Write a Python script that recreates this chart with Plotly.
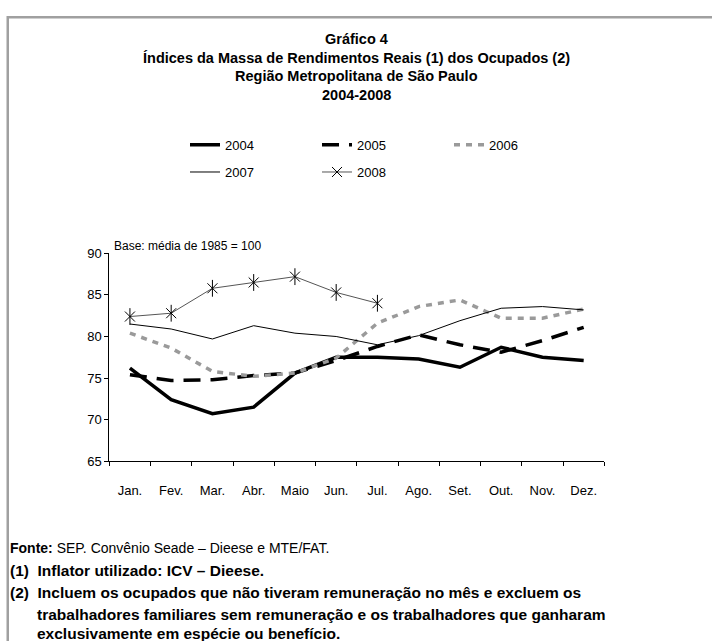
import plotly.graph_objects as go

W, H = 712, 641

months = ["Jan.", "Fev.", "Mar.", "Abr.", "Maio", "Jun.", "Jul.", "Ago.", "Set.", "Out.", "Nov.", "Dez."]
y2004 = [76.2, 72.4, 70.7, 71.5, 75.6, 77.5, 77.5, 77.3, 76.3, 78.7, 77.5, 77.1]
y2005 = [75.4, 74.7, 74.8, 75.3, 75.6, 77.1, 78.8, 80.2, 79.0, 78.1, 79.5, 81.1]
y2006 = [80.4, 78.6, 75.8, 75.2, 75.6, 77.4, 81.6, 83.6, 84.4, 82.2, 82.2, 83.3]
y2007 = [81.5, 80.9, 79.7, 81.3, 80.4, 80.0, 79.0, 80.1, 81.9, 83.4, 83.6, 83.2]
y2008 = [82.4, 82.8, 85.8, 86.5, 87.2, 85.3, 84.0]
yticks = [65, 70, 75, 80, 85, 90]

SANS = "Liberation Sans, Arial, sans-serif"

def px(x):
    return x / W

def py(y):
    return 1 - y / H

fig = go.Figure()

fig.add_trace(go.Scatter(x=months, y=y2004, name="2004", mode="lines",
                         line=dict(color="black", width=3.5), legend="legend"))
fig.add_trace(go.Scatter(x=months, y=y2005, name="2005", mode="lines",
                         line=dict(color="black", width=3.5, dash="17px,10px"), legend="legend"))
fig.add_trace(go.Scatter(x=months, y=y2006, name="2006", mode="lines",
                         line=dict(color="#9a9a9a", width=3.5, dash="6px,6px"), legend="legend"))
fig.add_trace(go.Scatter(x=months, y=y2007, name="2007", mode="lines",
                         line=dict(color="black", width=1), legend="legend2"))
fig.add_trace(go.Scatter(x=months[:len(y2008)], y=y2008, name="2008", mode="lines+markers",
                         line=dict(color="#555555", width=1),
                         marker=dict(symbol="x-thin-open", size=10, color="black",
                                     line=dict(color="black", width=1)),
                         legend="legend2"))
fig.add_trace(go.Scatter(x=months[:len(y2008)], y=y2008, name="2008", mode="markers",
                         marker=dict(symbol="line-ns-open", size=12, color="black",
                                     line=dict(color="black", width=1)),
                         showlegend=False))

fig.update_layout(
    width=W, height=H,
    margin=dict(l=0, r=0, t=0, b=0),
    paper_bgcolor="white", plot_bgcolor="white",
    font=dict(family=SANS, color="black", size=13),
    xaxis=dict(domain=[px(109.3), px(604.3)], type="category", range=[-0.5, 11.5],
               showline=True, linecolor="black", linewidth=1, showgrid=False, zeroline=False,
               ticks="outside", ticklen=4, tickcolor="black", tickson="boundaries",
               tickfont=dict(size=13, family=SANS), ticklabelstandoff=17),
    yaxis=dict(domain=[py(465), py(252.3)], range=[65, 90], tickvals=yticks,
               showline=True, linecolor="black", linewidth=1, showgrid=False, zeroline=False,
               ticks="outside", ticklen=4, tickcolor="black",
               tickfont=dict(size=13, family=SANS)),
    showlegend=True,
    legend=dict(orientation="h", x=px(185), y=py(141), xanchor="left", yanchor="middle",
                entrywidth=87, entrywidthmode="pixels", font=dict(size=13, family=SANS),
                bgcolor="rgba(0,0,0,0)", tracegroupgap=0),
    legend2=dict(orientation="h", x=px(185), y=py(169), xanchor="left", yanchor="middle",
                 entrywidth=87, entrywidthmode="pixels", font=dict(size=13, family=SANS),
                 bgcolor="rgba(0,0,0,0)", tracegroupgap=0),
)

# frame
fig.add_shape(type="rect", xref="paper", yref="paper",
              x0=px(7.75), x1=1.05, y0=-0.05, y1=py(10.5),
              line=dict(color="#a0a0a0", width=2.5), layer="below")

titles = [
    ("Gráfico 4", 33),
    ("Índices da Massa de Rendimentos Reais (1) dos Ocupados (2)", 52),
    ("Região Metropolitana de São Paulo", 71),
    ("2004-2008", 90),
]
for t, y in titles:
    fig.add_annotation(text="<b>" + t + "</b>", x=0.5, y=py(y), xref="paper", yref="paper",
                       xanchor="center", yanchor="middle", showarrow=False,
                       font=dict(family=SANS, size=14.5, color="black"))

fig.add_annotation(text="Base: média de 1985 = 100", x=px(112), y=py(245), xref="paper", yref="paper",
                   xanchor="left", yanchor="middle", showarrow=False,
                   font=dict(family=SANS, size=12, color="black"))

notes = [
    ("<b>Fonte:</b> SEP. Convênio Seade – Dieese e MTE/FAT.", 8, 554, 14),
    ("<b>(1)  Inflator utilizado: ICV – Dieese.</b>", 8, 577, 15.5),
    ("<b>(2)  Incluem os ocupados que não tiveram remuneração no mês e excluem os</b>", 8, 600, 15.5),
    ("<b>trabalhadores familiares sem remuneração e os trabalhadores que ganharam</b>", 35, 622, 15.5),
    ("<b>exclusivamente em espécie ou benefício.</b>", 35, 642, 15.5),
]
for t, x, y, s in notes:
    fig.add_annotation(text=t, x=px(x), y=py(y), xref="paper", yref="paper",
                       xanchor="left", yanchor="middle", showarrow=False,
                       font=dict(family=SANS, size=s, color="black"))

fig.write_html("out.html", config={"displayModeBar": False},
               post_script="document.body.style.margin='0';")
